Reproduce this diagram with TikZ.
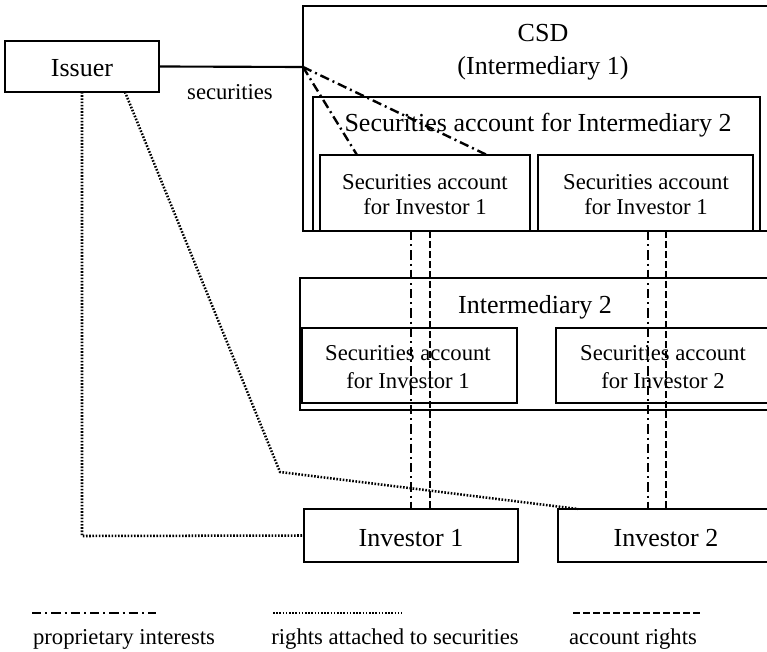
\documentclass[tikz,border=0pt]{standalone}
\usepackage{fontspec}
\setmainfont{Liberation Serif}
\usetikzlibrary{fit}
\begin{document}
\begin{tikzpicture}[x=0.75pt,y=-0.75pt,
  box/.style={draw, line width=1.6pt, inner sep=0pt},
  big/.style={font=\fontsize{19.5}{23}\selectfont, inner sep=0pt, anchor=base},
  small/.style={font=\fontsize{17}{20}\selectfont, inner sep=0pt, anchor=base},
  pint/.style={line width=1.8pt, dash pattern=on 7pt off 3pt on 1.5pt off 3pt},
  rsec/.style={line width=1.9pt, dash pattern=on 1.2pt off 1.2pt},
  arig/.style={line width=1.8pt, dash pattern=on 5pt off 2.5pt}]
\useasboundingbox (0,0) rectangle (767,652);
\clip (0,0) rectangle (767,652);
% boxes
\node[box, fit={(5,41)(159,92)}] (issuer) {};
\node[box, fit={(303,6)(790,231)}] (csd) {};
\node[box, fit={(313,97)(760,231)}] (accI2) {};
\node[box, fit={(320,155)(530,231)}] (sa1) {};
\node[box, fit={(538,155)(753,231)}] (sa2) {};
\node[box, fit={(300,278)(790,410)}] (int2) {};
\node[box, fit={(302,328)(517,403)}] (ia1) {};
\node[box, fit={(556,328)(790,403)}] (ia2) {};
\node[box, fit={(304,509)(518,562)}] (inv1) {};
\node[box, fit={(558,509)(790,562)}] (inv2) {};
% texts
\node[big] (tIssuer) at (82,77) {Issuer};
\node[small] (tSec) at (230,100) {securities};
\node[big] (tCSD) at (543,42) {CSD};
\node[big] (tInt1) at (543,75) {(Intermediary 1)};
\node[big] (tAccI2) at (538,132) {Securities account for Intermediary 2};
\node[small] (tSa1a) at (425,190) {Securities account};
\node[small] (tSa1b) at (425,215) {for Investor 1};
\node[small] (tSa2a) at (646,190) {Securities account};
\node[small] (tSa2b) at (646,215) {for Investor 1};
\node[big] (tInt2) at (535,313) {Intermediary 2};
\node[small] (tIa1a) at (408,360) {Securities account};
\node[small] (tIa1b) at (408,388) {for Investor 1};
\node[small] (tIa2a) at (663,360) {Securities account};
\node[small] (tIa2b) at (663,388) {for Investor 2};
\node[big] (tInv1) at (411,546) {Investor 1};
\node[big] (tInv2) at (666,546) {Investor 2};
% connector points
\coordinate (j) at (303,67);
\coordinate (sa1t) at (357,155);
\coordinate (sa1u) at (487,155);
\coordinate (c1a) at (411,231); \coordinate (c1b) at (411,509);
\coordinate (d1a) at (430,231); \coordinate (d1b) at (430,509);
\coordinate (c2a) at (648,231); \coordinate (c2b) at (648,509);
\coordinate (d2a) at (666,231); \coordinate (d2b) at (666,509);
\coordinate (is1) at (82,92); \coordinate (k1) at (82,536);
\coordinate (is2) at (125,92); \coordinate (k2) at (280,472); \coordinate (inv2t) at (578,509);
% connectors
\draw[line width=1.6pt] (issuer.east) -- (j);
\draw[pint] (j) -- (sa1t);
\draw[pint] (j) -- (sa1u);
\draw[pint] (c1a) -- (c1b);
\draw[arig] (d1a) -- (d1b);
\draw[pint] (c2a) -- (c2b);
\draw[arig] (d2a) -- (d2b);
\draw[rsec] (is1) -- (k1) -- (inv1.west);
\draw[rsec] (is2) -- (k2) -- (inv2t);
% legend
\coordinate (l1a) at (32,613); \coordinate (l1b) at (156,613);
\coordinate (l2a) at (273,613); \coordinate (l2b) at (402,613);
\coordinate (l3a) at (573,613); \coordinate (l3b) at (701,613);
\draw[pint] (l1a) -- (l1b);
\draw[rsec] (l2a) -- (l2b);
\draw[arig] (l3a) -- (l3b);
\node[small] (lg1) at (124,644) {proprietary interests};
\node[small] (lg2) at (395,644) {rights attached to securities};
\node[small] (lg3) at (633,644) {account rights};
\end{tikzpicture}
\end{document}
